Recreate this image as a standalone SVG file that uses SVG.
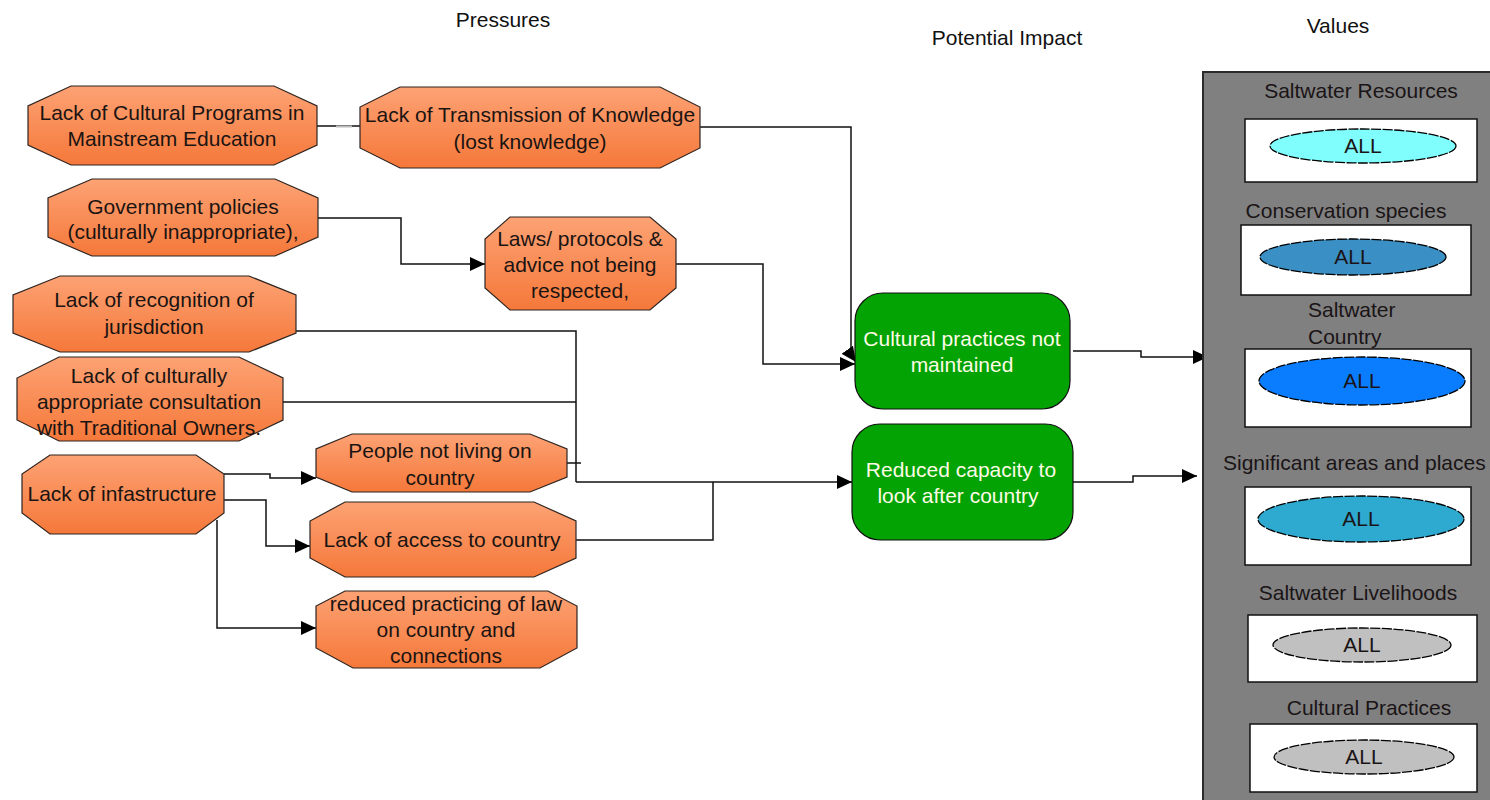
<svg xmlns="http://www.w3.org/2000/svg" width="1490" height="800" viewBox="0 0 1490 800">
  <style>
    text { font-family: "Liberation Sans", Arial, sans-serif; font-size: 21px; }
    .hdr { fill: #111; text-anchor: middle; }
    .pt { fill: #1a1412; text-anchor: middle; }
    .it { fill: #fffbe6; text-anchor: middle; }
    .vt { fill: #1a1416; text-anchor: middle; }
    .oct { fill: url(#orange); stroke: #2e2420; stroke-width: 1.2; }
    .imp { fill: #02a302; stroke: #111; stroke-width: 1.2; }
    .panel { fill: #808080; stroke: #2a2a2a; stroke-width: 2; }
    .vbox { fill: #ffffff; stroke: #111; stroke-width: 1.5; }
    .ell { stroke: #000; stroke-width: 1.3; stroke-dasharray: 10 1.5; }
    .conn { fill: none; stroke: #111; stroke-width: 1.5; }
    .arr { marker-end: url(#arrow); }
  </style>
  <defs>
    <linearGradient id="orange" x1="0" y1="0" x2="0" y2="1">
      <stop offset="0" stop-color="#fda274"/>
      <stop offset="1" stop-color="#f5783a"/>
    </linearGradient>
    <marker id="arrow" markerUnits="userSpaceOnUse" markerWidth="16" markerHeight="14" refX="15" refY="7" orient="auto">
      <path d="M0,0 L15,7 L0,14 Z" fill="#000"/>
    </marker>
  </defs>

  <!-- column headings -->
  <text class="hdr" x="503" y="27">Pressures</text>
  <text class="hdr" x="1007" y="45">Potential Impact</text>
  <text class="hdr" x="1338" y="33">Values</text>

  <!-- connectors -->
  <g id="connectors">
    <path class="conn" d="M317,126 H360"/>
    <path d="M336,126.5 H352" stroke="#bbb" stroke-width="2"/>
    <path class="conn arr" d="M700,127 H851 V355 L856,362"/>
    <path class="conn arr" d="M318,218 H401 V264 H485"/>
    <path class="conn arr" d="M676,264 H763 V364 H855"/>
    <path class="conn" d="M296,331 H576 V482"/>
    <path class="conn" d="M283,402 H576"/>
    <path class="conn" d="M567,463 H581"/>
    <path class="conn" d="M576,540 H713 V482"/>
    <path class="conn arr" d="M576,482 H852"/>
    <path class="conn arr" d="M224,474 H270 V478 H316"/>
    <path class="conn arr" d="M224,500 H266 V546 H310"/>
    <path class="conn arr" d="M217,520 V628 H316"/>
    <path class="conn arr" d="M1073,351 H1141 V357 H1208"/>
    <path class="conn arr" d="M1073,482 H1133 V476 H1197"/>
  </g>

  <!-- pressures -->
  <g id="lack-cultural-programs">
    <polygon class="oct" points="71,86 274,86 317,106 317,145 274,165 71,165 28,145 28,106"/>
    <text class="pt" x="172" y="120">Lack of Cultural Programs in</text>
    <text class="pt" x="172" y="146">Mainstream Education</text>
  </g>
  <g id="lack-transmission">
    <polygon class="oct" points="400,87 660,87 700,107 700,148 660,168 400,168 360,148 360,107"/>
    <text class="pt" x="530" y="122">Lack of Transmission of Knowledge</text>
    <text class="pt" x="530" y="149">(lost knowledge)</text>
  </g>
  <g id="government-policies">
    <polygon class="oct" points="92,179 275,179 318,198 318,237 275,256 92,256 48,237 48,198"/>
    <text class="pt" x="183" y="214">Government policies</text>
    <text class="pt" x="183" y="239">(culturally inappropriate),</text>
  </g>
  <g id="laws-protocols">
    <polygon class="oct" points="510,217 650,217 676,239 676,288 650,310 510,310 485,288 485,239"/>
    <text class="pt" x="580" y="246">Laws/ protocols &amp;</text>
    <text class="pt" x="580" y="272">advice not being</text>
    <text class="pt" x="580" y="298">respected,</text>
  </g>
  <g id="lack-recognition">
    <polygon class="oct" points="60,276 249,276 296,295 296,333 249,352 60,352 13,333 13,295"/>
    <text class="pt" x="154" y="307">Lack of recognition of</text>
    <text class="pt" x="154" y="334">jurisdiction</text>
  </g>
  <g id="lack-consultation">
    <polygon class="oct" points="59,357 239,357 283,378 283,420 239,441 59,441 17,420 17,378"/>
    <text class="pt" x="149" y="383">Lack of culturally</text>
    <text class="pt" x="149" y="409">appropriate consultation</text>
    <text class="pt" x="149" y="435">with Traditional Owners.</text>
  </g>
  <g id="lack-infrastructure">
    <polygon class="oct" points="50,455 196,455 224,474 224,513 196,534 50,534 22,513 22,474"/>
    <text class="pt" x="122" y="501">Lack of infastructure</text>
  </g>
  <g id="people-not-living">
    <polygon class="oct" points="352,434 530,434 567,449 567,477 530,492 352,492 316,477 316,449"/>
    <text class="pt" x="440" y="458">People not living on</text>
    <text class="pt" x="440" y="485">country</text>
  </g>
  <g id="lack-access">
    <polygon class="oct" points="345,502 534,502 576,521 576,558 534,577 345,577 310,558 310,521"/>
    <text class="pt" x="442" y="547">Lack of access to country</text>
  </g>
  <g id="reduced-practicing">
    <polygon class="oct" points="345,591 548,591 577,606 577,648 540,668 353,668 316,648 316,606"/>
    <text class="pt" x="446" y="611">reduced practicing of law</text>
    <text class="pt" x="446" y="637">on country and</text>
    <text class="pt" x="446" y="663">connections</text>
  </g>

  <!-- potential impacts -->
  <g id="cultural-practices-not-maintained">
    <rect class="imp" x="855" y="293" width="215" height="116" rx="28"/>
    <text class="it" x="962" y="346">Cultural practices not</text>
    <text class="it" x="962" y="372">maintained</text>
  </g>
  <g id="reduced-capacity">
    <rect class="imp" x="852" y="424" width="221" height="116" rx="28"/>
    <text class="it" x="961" y="477">Reduced capacity to</text>
    <text class="it" x="958" y="503">look after country</text>
  </g>

  <!-- values -->
  <g id="values">
    <rect class="panel" x="1203" y="72" width="300" height="740"/>

    <g id="saltwater-resources">
      <text class="vt" x="1361" y="98">Saltwater Resources</text>
      <rect class="vbox" x="1245" y="119" width="232" height="63"/>
      <ellipse class="ell" cx="1363" cy="146" rx="93" ry="17" fill="#80fdfd"/>
      <text class="vt" x="1363" y="153">ALL</text>
    </g>
    <g id="conservation-species">
      <text class="vt" x="1346" y="218">Conservation species</text>
      <rect class="vbox" x="1241" y="225" width="230" height="70"/>
      <ellipse class="ell" cx="1353" cy="257" rx="93" ry="18" fill="#3a8fc5"/>
      <text class="vt" x="1353" y="264">ALL</text>
    </g>
    <g id="saltwater-country">
      <text class="vt" x="1308" y="317" style="text-anchor:start">Saltwater</text>
      <text class="vt" x="1308" y="344" style="text-anchor:start">Country</text>
      <rect class="vbox" x="1245" y="349" width="226" height="78"/>
      <ellipse class="ell" cx="1362" cy="381" rx="103" ry="24" fill="#0a7dff"/>
      <text class="vt" x="1362" y="388">ALL</text>
    </g>
    <g id="significant-areas">
      <text class="vt" x="1223" y="470" style="text-anchor:start">Significant areas and places</text>
      <rect class="vbox" x="1245" y="487" width="226" height="78"/>
      <ellipse class="ell" cx="1361" cy="519" rx="103" ry="23" fill="#2ea9d0"/>
      <text class="vt" x="1361" y="526">ALL</text>
    </g>
    <g id="saltwater-livelihoods">
      <text class="vt" x="1358" y="600">Saltwater Livelihoods</text>
      <rect class="vbox" x="1248" y="615" width="229" height="67"/>
      <ellipse class="ell" cx="1362" cy="645" rx="89" ry="17" fill="#c0c0c0"/>
      <text class="vt" x="1362" y="652">ALL</text>
    </g>
    <g id="cultural-practices">
      <text class="vt" x="1369" y="715">Cultural Practices</text>
      <rect class="vbox" x="1250" y="724" width="227" height="68"/>
      <ellipse class="ell" cx="1364" cy="757" rx="90" ry="17" fill="#c0c0c0"/>
      <text class="vt" x="1364" y="764">ALL</text>
    </g>
  </g>
</svg>
